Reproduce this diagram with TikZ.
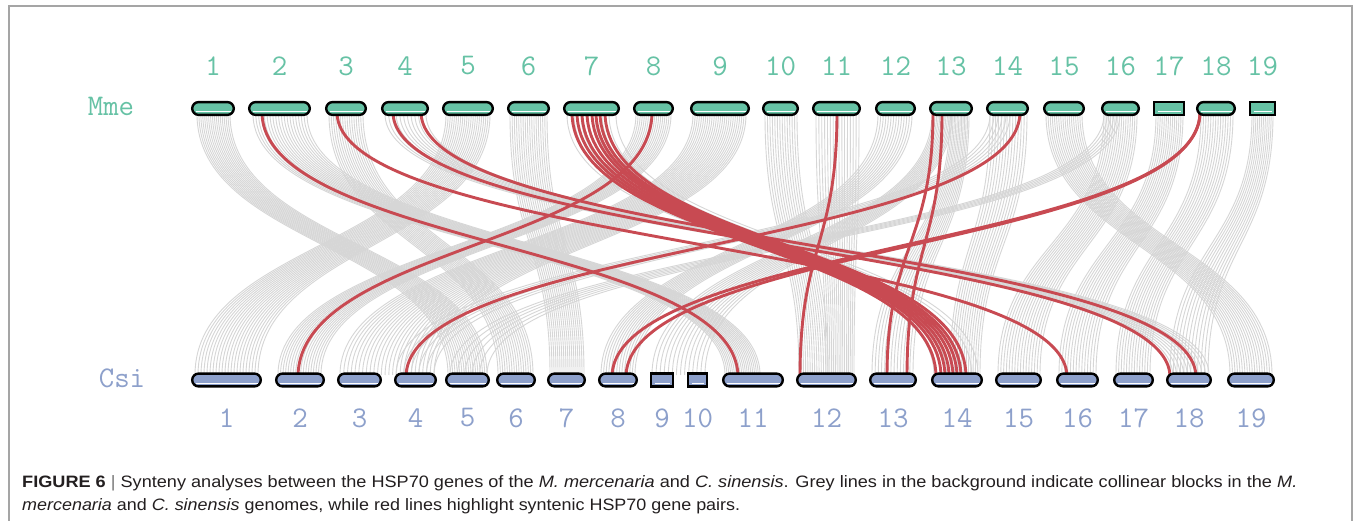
\documentclass[tikz,border=0pt]{standalone}
\usepackage{fontspec}
\newfontfamily\capfont{Liberation Sans}
\usetikzlibrary{shapes.misc}
\definecolor{mmeg}{HTML}{66C2A5}
\definecolor{csib}{HTML}{8DA0CB}
\definecolor{synred}{RGB}{200,74,82}
\definecolor{lgrey}{RGB}{214,214,214}
\definecolor{framegrey}{RGB}{165,165,165}
\definecolor{captext}{RGB}{35,31,32}
\definecolor{bargrey}{RGB}{120,120,120}
\newcommand\gbundle[5]{%
  \pgfmathtruncatemacro\gbn{#5-1}%
  \foreach \k in {0,...,\gbn}{%
    \pgfmathsetmacro\xa{#1+(#2-#1)*\k/\gbn}%
    \pgfmathsetmacro\xb{#3+(#4-#3)*\k/\gbn}%
    \draw[greylink] (\xa,114) .. controls (\xa,245) and (\xb,245) .. (\xb,375);
  }}
\newcommand\rlink[2]{\draw[redlink] (#1,112) .. controls (#1,245) and (#2,245) .. (#2,377);}
\begin{document}
\begin{tikzpicture}[x=1pt,y=-1pt,
  greylink/.style={lgrey, line width=0.9pt},
  redlink/.style={synred, line width=2.9pt},
  chrr/.style={rounded rectangle, draw=black, line width=2.4pt, minimum height=12.8pt, inner sep=0pt},
  chrs/.style={rectangle, draw=black, line width=2.4pt, minimum height=12.8pt, inner sep=0pt},
  numlab/.style={font=\ttfamily\fontsize{30}{30}\selectfont, inner sep=0pt},
  caplab/.style={anchor=base west, inner sep=0pt, text=captext}]
\useasboundingbox (0,0) rectangle (1355,521);
\fill[white] (0,0) rectangle (1355,521);
% frame
\coordinate (f1) at (9,521); \coordinate (f2) at (9,6);
\coordinate (f3) at (1352,6); \coordinate (f4) at (1352,521);
\draw[framegrey, line width=1.3pt] (f1) -- (f2) -- (f3) -- (f4);
% grey collinear blocks
\gbundle{197}{230}{448}{487}{18}
\gbundle{253}{307}{725}{760}{20}
\gbundle{329}{363}{498}{533}{16}
\gbundle{385}{426}{1169}{1209}{12}
\gbundle{446}{490}{195}{258}{22}
\gbundle{510}{547}{550}{584}{18}
\gbundle{567}{616}{934}{978}{8}
\gbundle{636}{671}{278}{321}{18}
\gbundle{693}{746}{340}{434}{26}
\gbundle{765}{797}{799}{828}{14}
\gbundle{816}{859}{826}{854}{16}
\gbundle{878}{912}{601}{635}{14}
\gbundle{932}{952}{652}{705}{14}
\gbundle{950}{969}{872}{913}{14}
\gbundle{990}{1027}{950}{980}{14}
\gbundle{990}{1010}{396}{434}{6}
\gbundle{1046}{1082}{1230}{1272}{18}
\gbundle{1104}{1137}{998}{1040}{16}
\gbundle{1104}{1120}{450}{487}{6}
\gbundle{1156}{1183}{1059}{1096}{14}
\gbundle{1201}{1233}{1116}{1150}{14}
\gbundle{1252}{1273}{1170}{1208}{12}
% red syntenic pairs
\rlink{262}{738}
\rlink{337}{1067}
\rlink{393}{1170}
\rlink{421}{1196}
\rlink{652}{298}
\rlink{1020}{406}
\rlink{1200}{612}
\rlink{1200}{626}
\rlink{837}{800}
\rlink{933}{887}
\rlink{942}{907}
\foreach \u/\v in {572/936,577/941,582/945,587/949,592/953,596/957,600/961,605/966}{\rlink{\u}{\v}}
% Mme chromosomes
\foreach \a/\b/\st [count=\i] in {191/235/chrr,248/311/chrr,325/367/chrr,381/429/chrr,442/494/chrr,507/550/chrr,563/620/chrr,633/674/chrr,690/750/chrr,762/799/chrr,812/861/chrr,875/916/chrr,929/973/chrr,986/1029/chrr,1043/1085/chrr,1101/1140/chrr,1153/1185/chrs,1196/1236/chrr,1249/1276/chrs}{
  \pgfmathsetmacro\w{\b-\a-2.4}
  \pgfmathsetmacro\c{(\a+\b)/2}
  \node[\st, fill=mmeg, minimum width=\w pt] (t\i) at (\c,108.5) {};
  \draw[white, line width=1.1pt] (\a+4.5,111.6) -- (\b-4.5,111.6);
  \node[numlab, text=mmeg] (tl\i) at (\c,66) {\i};
}
% Csi chromosomes
\foreach \a/\b/\st [count=\i] in {191/262/chrr,275/325/chrr,337/382/chrr,394/437/chrr,445/490/chrr,496/536/chrr,547/586/chrr,598/638/chrr,650/674/chrs,687/708/chrs,722/784/chrr,796/857/chrr,869/917/chrr,931/983/chrr,995/1042/chrr,1056/1099/chrr,1113/1154/chrr,1166/1212/chrr,1227/1275/chrr}{
  \pgfmathsetmacro\w{\b-\a-2.4}
  \pgfmathsetmacro\c{(\a+\b)/2}
  \node[\st, fill=csib, minimum width=\w pt] (b\i) at (\c,380) {};
  \draw[white, line width=1.1pt] (\a+4.5,383.1) -- (\b-4.5,383.1);
  \node[numlab, text=csib] (bl\i) at (\c,418) {\i};
}
\node[numlab, text=mmeg] (mme) at (111,106) {Mme};
\node[numlab, text=csib] (csi) at (122,378) {Csi};
% caption
\node[caplab] (cap1) at (22,487) {\resizebox{1275pt}{\height}{\capfont\fontsize{16.5}{20}\selectfont\textbf{FIGURE 6} {\color{bargrey}|} Synteny analyses between the HSP70 genes of the \textit{M. mercenaria} and \textit{C. sinensis}. Grey lines in the background indicate collinear blocks in the \textit{M.}}};
\node[caplab] (cap2) at (22,510) {\resizebox{718pt}{\height}{\capfont\fontsize{16.5}{20}\selectfont\textit{mercenaria} and \textit{C. sinensis} genomes, while red lines highlight syntenic HSP70 gene pairs.}};
\end{tikzpicture}
\end{document}
